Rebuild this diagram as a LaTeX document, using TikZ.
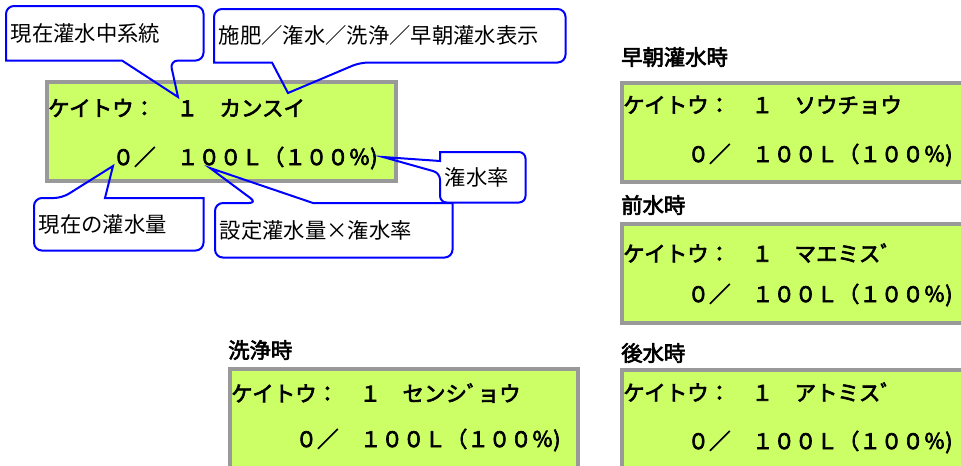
\documentclass[tikz,border=0pt]{standalone}
\usepackage{fontspec}
\usetikzlibrary{calc}
\newfontfamily\jpfont{Noto Sans CJK JP}
\newfontfamily\jpbold[FakeBold=3]{Noto Sans CJK JP}
\definecolor{lg}{HTML}{CCFF66}
\definecolor{lk}{HTML}{999999}
\definecolor{cb}{HTML}{0000FF}

\tikzset{
  lcd/.style={draw=lk,fill=lg,line width=3pt},
  lcdtext/.style={anchor=west,inner sep=0pt,font=\jpbold\fontsize{16.1}{20}\selectfont},
  modetitle/.style={anchor=west,inner sep=0pt,font=\jpbold\fontsize{16}{18}\selectfont},
  calloutline/.style={draw=cb,line width=1.5pt},
  note/.style={anchor=north west,inner xsep=3.5pt,inner ysep=0pt,align=left,
    font=\jpfont\fontsize{16}{19}\selectfont},
}

\begin{document}
\begin{tikzpicture}[x=0.75pt,y=-0.75pt]
  \useasboundingbox (0,0) rectangle (961,465);
  \clip (0,0) rectangle (961,465);

  % LCD panels
  \draw[lcd] (47,82) rectangle (396,181);
  \draw[lcd] (622,83) rectangle (975,182);
  \draw[lcd] (622,224) rectangle (975,323);
  \draw[lcd] (622,370) rectangle (975,480);
  \draw[lcd] (230,369) rectangle (578,480);

  % Main display
  \node[lcdtext] (m1) at (48,108) {ケイトウ：　１　カンスイ};
  \node[lcdtext] (m2) at (48,158) {　　　０／　１００Ｌ（１００％)};

  % Mode displays
  \node[modetitle] (socho) at (621,57) {早朝灌水時};
  \node[lcdtext] (s1) at (623,105) {ケイトウ：　１　ソウチョウ};
  \node[lcdtext] (s2) at (623,155) {　　　０／　１００Ｌ（１００％)};

  \node[modetitle] (mae) at (621,205) {前水時};
  \node[lcdtext] (a1) at (623,253) {ケイトウ：　１　マエミスﾞ};
  \node[lcdtext] (a2) at (623,295) {　　　０／　１００Ｌ（１００％)};

  \node[modetitle] (ato) at (621,353) {後水時};
  \node[lcdtext] (b1) at (623,392) {ケイトウ：　１　アトミスﾞ};
  \node[lcdtext] (b2) at (623,442) {　　　０／　１００Ｌ（１００％)};

  \node[modetitle] (senjo) at (228,350) {洗浄時};
  \node[lcdtext] (w1) at (231,393) {ケイトウ：　１　センシﾞョウ};
  \node[lcdtext] (w2) at (231,440) {　　　０／　１００Ｌ（１００％)};

  % Callout texts
  \node[note,text width=140.75pt,minimum height=40.5pt] (c1) at (6,6) {現在灌水中系統};
  \node[note,text width=256.25pt,minimum height=39.75pt] (c2) at (214,9) {施肥／潅水／洗浄／早朝灌水表示};
  \node[note,text width=56.75pt,minimum height=37.5pt] (c3) at (440,152) {潅水率};
  \node[note,text width=119.75pt,minimum height=39pt] (c4) at (34,198) {現在の灌水量};
  \node[note,text width=170.75pt,minimum height=40.5pt] (c5) at (215,203) {設定灌水量×潅水率};

  % Where the tails point
  \coordinate (t1) at (178,97);
  \coordinate (t2) at (288,93);
  \coordinate (t3) at (383,157);
  \coordinate (t4) at (113,166);
  \coordinate (t5) at (210,168);

  % Callout outlines
  \draw[calloutline] (c1.west) [rounded corners=6pt] -- (c1.north west) -- (c1.north east)
    -- (c1.south east) -- ($(c1.south west)+(164,0)$) [sharp corners] -- (t1)
    -- ($(c1.south west)+(116,0)$) -- (c1.south west) [rounded corners=6pt] -- cycle;
  \draw[calloutline] (c2.west) [rounded corners=6pt] -- (c2.north west) -- (c2.north east)
    -- (c2.south east) -- ($(c2.south west)+(146,0)$) [sharp corners] -- (t2)
    -- ($(c2.south west)+(58,0)$) -- (c2.south west) [rounded corners=6pt] -- cycle;
  \draw[calloutline] (c3.north) [rounded corners=5pt] -- (c3.north east) -- (c3.south east)
    -- (c3.south west) -- ($(c3.north west)+(0,21)$) [sharp corners] -- (t3)
    -- ($(c3.north west)+(0,9)$) -- (c3.north west) [rounded corners=5pt] -- cycle;
  \draw[calloutline] (c4.south) [rounded corners=6pt] -- (c4.south west) -- (c4.north west)
    -- ($(c4.north west)+(28,0)$) [sharp corners] -- (t4) -- ($(c4.north west)+(71,0)$)
    -- (c4.north east) [rounded corners=6pt] -- (c4.south east) -- cycle;
  \draw[calloutline] (c5.south) [rounded corners=6pt] -- (c5.south west) -- (c5.north west)
    -- ($(c5.north west)+(42,0)$) [sharp corners] -- (t5) -- ($(c5.north west)+(98,0)$)
    -- (c5.north east) [rounded corners=6pt] -- (c5.south east) -- cycle;
\end{tikzpicture}
\end{document}
